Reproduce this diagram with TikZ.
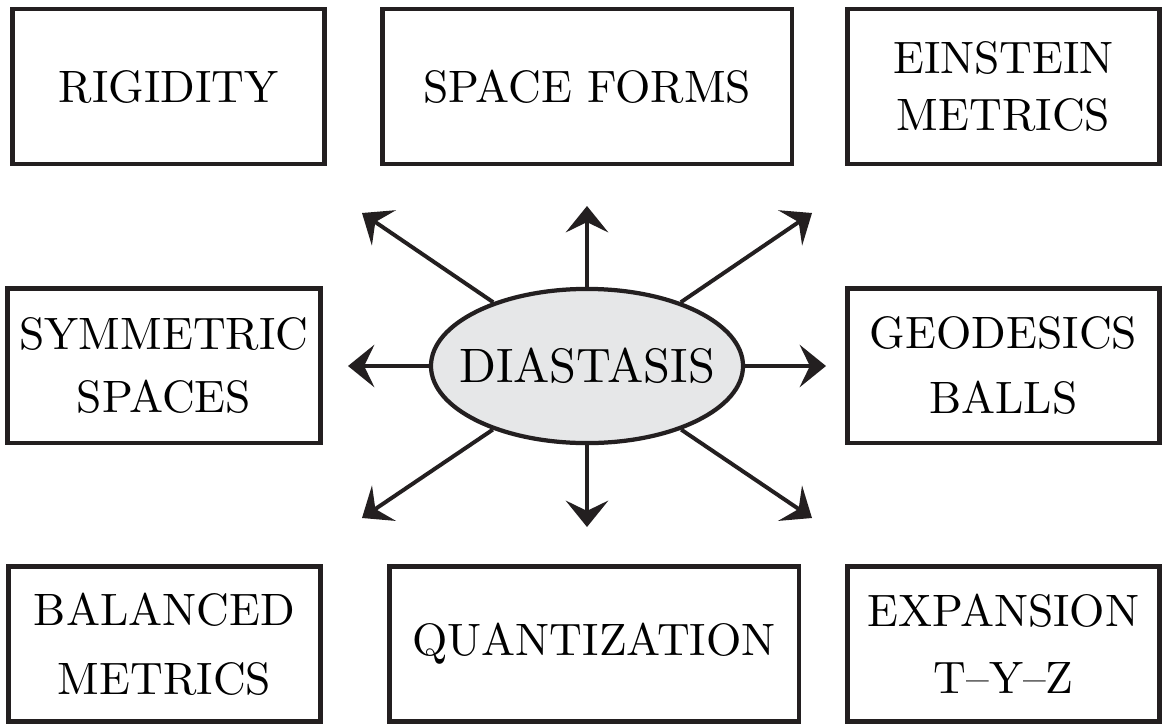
\documentclass[tikz,border=0pt]{standalone}
\usepackage{fontspec}
\setmainfont{lmroman10-regular}[Extension=.otf]
\usetikzlibrary{arrows.meta, shapes.geometric}
\definecolor{InkBlack}{HTML}{231F20}
\definecolor{PaleGrey}{HTML}{E6E7E8}
\tikzset{
  topicbox/.style={rectangle, draw=InkBlack, line width=3.4pt, fill=white,
                minimum width=#1, minimum height=3.72cm, inner sep=0pt,
                align=center, font=\fontsize{31}{41}\selectfont},
  topicbox/.default=7.49cm,
  leading/.style={font=\fontsize{31}{#1}\selectfont},
  hubshape/.style={ellipse, draw=InkBlack, line width=2.9pt, fill=PaleGrey,
                minimum width=7.49cm, minimum height=3.70cm, inner sep=0pt},
  hubtext/.style={inner sep=0pt, font=\fontsize{33}{40}\selectfont},
  hubarrow/.style={-{Stealth[length=18pt, width=29pt, inset=7pt]},
                line width=2.7pt, InkBlack},
}

\begin{document}
\begin{tikzpicture}[x=0.024cm, y=-0.024cm]
    % Coordinate map (pixel grid of the sketch, y downwards):
    % (rig) (168,86)   (spf) (587,86)   (ein) (1003,86)
    % (sym) (164,366)  (dia) (587,366)  (geo) (1003,366)
    % (bal) (164,644)  (qua) (594,644)  (exp) (1003,644)
    \useasboundingbox (0,0) rectangle (1162,725);

    \node[topicbox] (rig) at (168.5, 86.5) {RIGIDITY};
    \node[topicbox=9.84cm] (spf) at (587, 86.5) {SPACE FORMS};
    \node[topicbox, leading=39] (ein) at (1003.5, 86.5) {EINSTEIN\\METRICS};
    \node[topicbox, leading=43] (sym) at (164, 365.5) {SYMMETRIC\\SPACES};
    \node[topicbox, leading=44] (geo) at (1003.5, 365.5) {GEODESICS\\BALLS};
    \node[topicbox, leading=47] (bal) at (164.5, 644) {BALANCED\\METRICS};
    \node[topicbox=9.84cm] (qua) at (594, 644) {QUANTIZATION};
    \node[topicbox, leading=46] (exp) at (1003.5, 644) {EXPANSION\\T--Y--Z};

    \node[hubshape, label={[hubtext]center:DIASTASIS}] (dia) at (587, 366) {};

    % free ends of the spokes
    \coordinate (tipN) at (587, 206);
    \coordinate (tipS) at (587, 527);
    \coordinate (tipW) at (348, 366);
    \coordinate (tipE) at (826, 366);
    \coordinate (tipNW) at (362, 213);
    \coordinate (tipNE) at (812, 213);
    \coordinate (tipSW) at (362, 518);
    \coordinate (tipSE) at (812, 518);

    \draw[hubarrow] (dia) -- (tipN);
    \draw[hubarrow] (dia) -- (tipS);
    \draw[hubarrow] (dia) -- (tipW);
    \draw[hubarrow] (dia) -- (tipE);
    \draw[hubarrow] (dia) -- (tipNW);
    \draw[hubarrow] (dia) -- (tipNE);
    \draw[hubarrow] (dia) -- (tipSW);
    \draw[hubarrow] (dia) -- (tipSE);
\end{tikzpicture}
\end{document}
